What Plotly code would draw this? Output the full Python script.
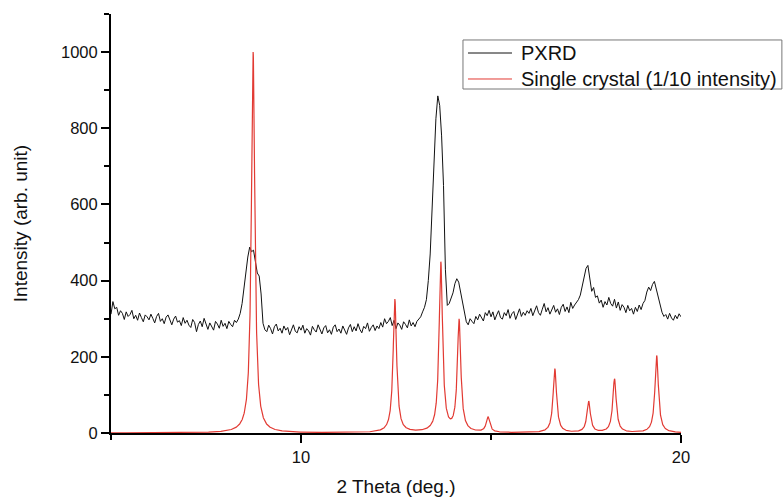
import numpy as np
import plotly.graph_objects as go

# Measured powder pattern, sampled every 0.05 deg from 5 to 20 deg (2 theta)
pxrd_start, pxrd_stop, pxrd_step = 5.0, 20.0, 0.05
pxrd_intensity = [
    # 5.00 - 5.95
    312, 345, 326, 330, 309, 321, 314, 298, 318, 306, 311, 322, 300, 309, 296, 315, 303, 292, 310, 305,
    # 6.00 - 6.95
    297, 312, 301, 289, 306, 314, 293, 300, 287, 304, 310, 296, 284, 299, 307, 291, 295, 282, 303, 288,
    # 7.00 - 7.95
    296, 283, 277, 298, 290, 266, 285, 294, 279, 301, 284, 272, 289, 281, 270, 293, 286, 275, 296, 280,
    # 8.00 - 8.95
    288, 274, 293, 285, 279, 296, 290, 299, 314, 340, 385, 432, 462, 488, 476, 480, 452, 420, 412, 365,
    # 9.00 - 9.95
    288, 271, 266, 283, 274, 260, 279, 286, 268, 275, 262, 281, 270, 277, 258, 272, 284, 267, 263, 279,
    # 10.00 - 10.95
    270, 283, 262, 274, 268, 257, 280, 271, 265, 284, 269, 260, 276, 282, 263, 271, 259, 278, 284, 266,
    # 11.00 - 11.95
    273, 262, 281, 270, 259, 276, 285, 266, 279, 268, 287, 272, 263, 280, 274, 289, 267, 277, 284, 269,
    # 12.00 - 12.95
    281, 274, 290, 278, 300, 287, 293, 303, 282, 296, 274, 289, 283, 272, 292, 285, 276, 297, 281, 290,
    # 13.00 - 13.95
    279, 293, 299, 305, 318, 330, 350, 400, 470, 575, 700, 825, 885, 860, 780, 650, 430, 335, 340, 352,
    # 14.00 - 14.95
    368, 392, 405, 396, 372, 345, 318, 292, 284, 300, 293, 287, 306, 297, 312, 301, 294, 316, 308, 322,
    # 15.00 - 15.95
    305, 318, 297, 310, 321, 303, 299, 316, 308, 324, 301, 313, 319, 298, 311, 326, 306, 317, 309, 321,
    # 16.00 - 16.95
    314, 327, 308, 320, 334, 316, 309, 325, 340, 318, 329, 312, 322, 335, 317, 326, 311, 330, 338, 319,
    # 17.00 - 17.95
    331, 316, 343, 327, 336, 344, 350, 362, 385, 410, 432, 440, 398, 372, 382, 356, 360, 341, 349, 330,
    # 18.00 - 18.95
    345, 336, 356, 340, 333, 351, 328, 344, 322, 337, 330, 316, 335, 321, 327, 312, 330, 319, 336, 324,
    # 19.00 - 20.00
    340, 348, 370, 383, 374, 390, 398, 378, 352, 330, 317, 306, 311, 299, 314, 302, 296, 309, 300, 313, 305,
]

# Reflections calculated from the single-crystal structure (already scaled to 1/10)
sc_positions = [8.74, 12.47, 13.68, 14.16, 14.92, 16.68, 17.57, 18.25, 19.36]
sc_intensities = [1000, 350, 445, 293, 40, 168, 82, 141, 203]
sc_hwhm = 0.055  # Lorentzian half width used for the simulated profile

# Axis ticks
x_ticks = [10, 20]
y_ticks = [0, 200, 400, 600, 800, 1000]

# Series labels and colours
series_names = ["PXRD", "Single crystal (1/10 intensity)"]
series_colors = ["#111111", "#e23a33"]

n_pts = int(round((pxrd_stop - pxrd_start) / pxrd_step)) + 1
pxrd_x = np.linspace(pxrd_start, pxrd_stop, n_pts)

sc_x = np.linspace(5.0, 20.0, 6001)
sc_y = np.zeros_like(sc_x)
for pos, amp in zip(sc_positions, sc_intensities):
    sc_y += amp / (1.0 + ((sc_x - pos) / sc_hwhm) ** 2)

font_family = "Liberation Sans, Arial, sans-serif"

fig = go.Figure()
fig.add_trace(go.Scatter(
    x=pxrd_x, y=pxrd_intensity, mode="lines", name=series_names[0],
    line=dict(color=series_colors[0], width=1),
))
fig.add_trace(go.Scatter(
    x=sc_x, y=sc_y, mode="lines", name=series_names[1],
    line=dict(color=series_colors[1], width=1.2),
))

fig.update_layout(
    width=783, height=501,
    margin=dict(l=111, r=102, t=14, b=68),
    paper_bgcolor="white", plot_bgcolor="white",
    font=dict(family=font_family, size=16.5, color="#111111"),
    showlegend=False,
)

# Boxed legend in the upper right, drawn in paper coordinates
box_x0, box_x1 = 0.6175, 1.177
box_y0, box_y1 = 0.821, 0.938
row_y = [0.9069, 0.8449]
sample_x0, sample_x1 = 0.6263, 0.7035
label_x = 0.7158

fig.add_shape(type="rect", xref="paper", yref="paper",
              x0=box_x0, x1=box_x1, y0=box_y0, y1=box_y1,
              line=dict(color="#777777", width=1), fillcolor="rgba(0,0,0,0)")
for name, color, yy in zip(series_names, series_colors, row_y):
    fig.add_shape(type="line", xref="paper", yref="paper",
                  x0=sample_x0, x1=sample_x1, y0=yy, y1=yy,
                  line=dict(color=color, width=1))
    fig.add_annotation(xref="paper", yref="paper", x=label_x, y=yy,
                       text=name, showarrow=False, xanchor="left", yanchor="middle",
                       font=dict(size=20, family=font_family, color="#111111"))

fig.update_xaxes(
    range=[5, 20], tickvals=x_ticks, ticktext=[str(t) for t in x_ticks],
    showgrid=False, zeroline=False, automargin=False,
    showline=True, linecolor="black", linewidth=2,
    ticks="outside", ticklen=8, tickwidth=1.5, tickcolor="black",
    tickfont=dict(size=16.5),
    minor=dict(tickvals=[5, 15], ticks="outside", ticklen=5, tickwidth=1.5, tickcolor="black"),
    title=dict(text="2 Theta (deg.)", font=dict(size=19), standoff=15),
)
fig.update_yaxes(
    range=[0, 1100], tickvals=y_ticks, ticktext=[str(t) for t in y_ticks],
    showgrid=False, zeroline=False, automargin=False,
    showline=True, linecolor="black", linewidth=2,
    ticks="outside", ticklen=8, tickwidth=1.5, tickcolor="black",
    tickfont=dict(size=16.5),
    minor=dict(tickvals=[100, 300, 500, 700, 900, 1100], ticks="outside", ticklen=5,
               tickwidth=1.5, tickcolor="black"),
    title=dict(text="Intensity (arb. unit)", font=dict(size=19), standoff=28),
)

fig.write_html("out.html")
